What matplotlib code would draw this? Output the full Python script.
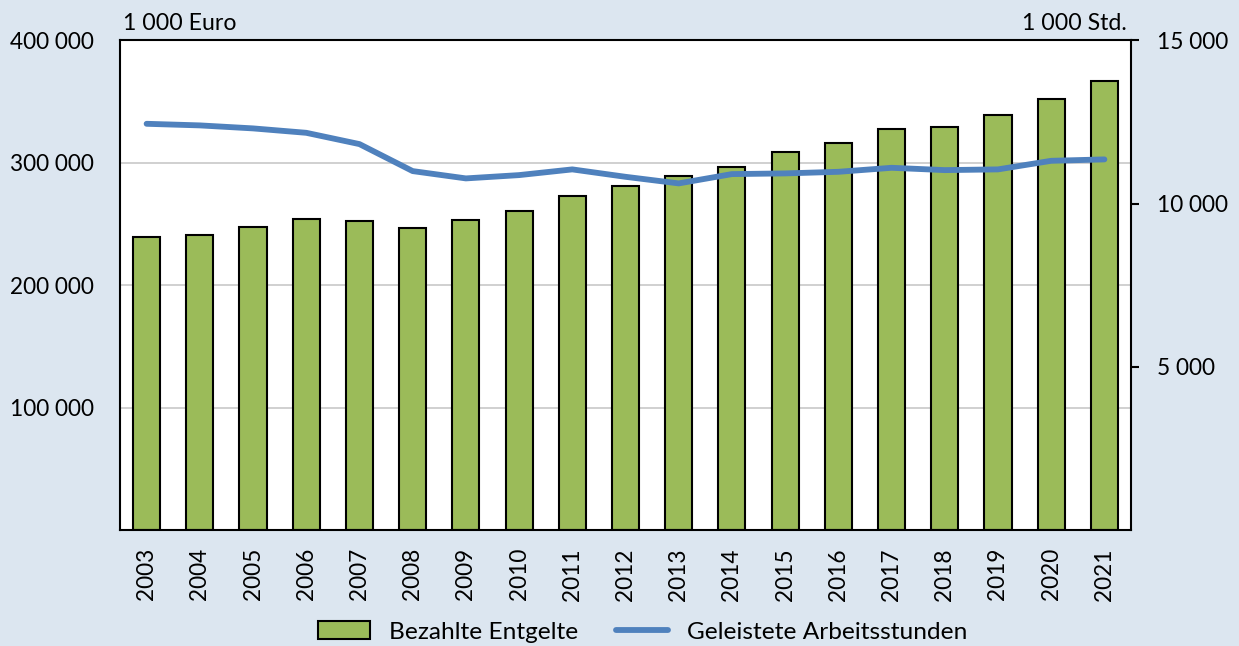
import numpy as np
import matplotlib
matplotlib.use("Agg")
import matplotlib.pyplot as plt

plt.rcParams['font.family'] = ['Lato', 'DejaVu Sans']

years = [str(y) for y in range(2003, 2022)]
entgelte = [239050, 241180, 247220, 254250, 252610, 246650, 253190, 260290,
            272790, 280720, 289380, 296490, 309000, 316340, 327290, 329170,
            338970, 352290, 366750]
stunden = [12445, 12396, 12304, 12169, 11823, 10996, 10772, 10873,
           11048, 10821, 10619, 10904, 10925, 10974, 11097, 11026,
           11048, 11311, 11354]

BG = '#dce6f0'
GREEN = '#9bbb59'
BLUE = '#4f81bd'

fig = plt.figure(figsize=(12.39, 6.46), dpi=100, facecolor=BG)
ax = fig.add_axes([120 / 1239, 1 - 530 / 646, 1011 / 1239, 489.6 / 646])
ax.set_facecolor('white')

x = np.arange(len(years))
bars = ax.bar(x, entgelte, width=0.51, color=GREEN, edgecolor='black',
              linewidth=1.5, zorder=2, label='Bezahlte Entgelte')
ax.set_xlim(-0.5, len(years) - 0.5)
ax.set_ylim(0, 400000)
ax.set_yticks([100000, 200000, 300000, 400000])
ax.set_yticklabels(['100 000', '200 000', '300 000', '400 000'])
ax.yaxis.grid(True, color='#c8c8c8', linewidth=1.2, zorder=0)
ax.set_axisbelow(True)
ax.tick_params(axis='y', length=0, pad=19, labelsize=16.3)
ax.set_xticks(x)
ax.set_xticklabels(years, rotation=90)
ax.tick_params(axis='x', length=0, pad=13, labelsize=16.3)
for side in ['left', 'bottom', 'top']:
    ax.spines[side].set_linewidth(1.5)
ax.spines['right'].set_visible(False)

ax2 = ax.twinx()
line, = ax2.plot(x, stunden, color=BLUE, linewidth=4.2,
                 solid_capstyle='round', solid_joinstyle='round',
                 zorder=3, label='Geleistete Arbeitsstunden')
ax2.set_ylim(0, 15000)
ax2.set_yticks([5000, 10000, 15000])
ax2.set_yticklabels(['5 000', '10 000', '15 000'])
ax2.tick_params(axis='y', length=6, width=1.5, pad=13, labelsize=16.3)
for side in ['left', 'bottom', 'top']:
    ax2.spines[side].set_visible(False)
ax2.spines['right'].set_linewidth(1.5)

fig.text(123 / 1239, 1 - 30 / 646, '1 000 Euro', fontsize=16.7,
         ha='left', va='baseline')
fig.text(1127 / 1239, 1 - 30 / 646, '1 000 Std.', fontsize=16.7,
         ha='right', va='baseline')

fig.legend([bars, line], ['Bezahlte Entgelte', 'Geleistete Arbeitsstunden'],
           loc='center', bbox_to_anchor=(643 / 1239, 1 - 632 / 646), ncol=2,
           frameon=False, fontsize=17.6, handlelength=2.1, handleheight=0.75,
           columnspacing=1.55, handletextpad=0.8)

fig.savefig('out.png', dpi=100, facecolor=BG)
